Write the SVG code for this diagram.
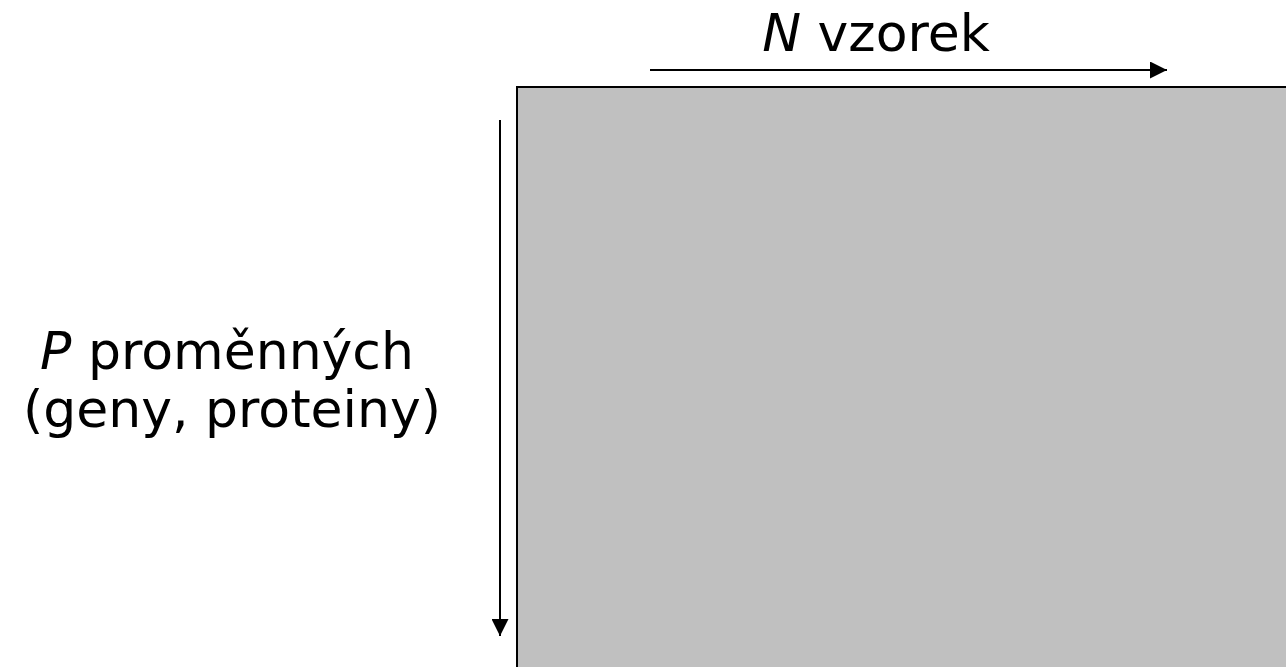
<svg xmlns="http://www.w3.org/2000/svg" width="1286" height="667" viewBox="0 0 1286 667">
  <style>
    .lbl { font-family: "DejaVu Sans", Verdana, sans-serif; font-size: 52px; fill: #000; }
    .axis { stroke: #000; stroke-width: 2; fill: none; }
  </style>
  <defs>
    <marker id="head" viewBox="0 0 10 10" refX="10" refY="5" markerUnits="userSpaceOnUse" markerWidth="19" markerHeight="17" orient="auto">
      <path d="M0,0 L10,5 L0,10 Z" fill="#000"/>
    </marker>
  </defs>
  <rect width="1286" height="667" fill="#fff"/>
  <g id="matrix">
    <rect x="517" y="87" width="800" height="620" fill="#c0c0c0" stroke="#000" stroke-width="2"/>
  </g>
  <g id="connectors">
    <line class="axis" x1="650" y1="70" x2="1167" y2="70" marker-end="url(#head)"/>
    <line class="axis" x1="500" y1="120" x2="500" y2="636" marker-end="url(#head)"/>
  </g>
  <g id="label-samples">
    <text class="lbl" x="876" y="51" text-anchor="middle"><tspan font-style="italic">N</tspan> vzorek</text>
  </g>
  <g id="label-variables">
    <text class="lbl" x="227" y="369" text-anchor="middle"><tspan font-style="italic">P</tspan> proměnných</text>
    <text class="lbl" x="232" y="427" text-anchor="middle">(geny, proteiny)</text>
  </g>
</svg>
